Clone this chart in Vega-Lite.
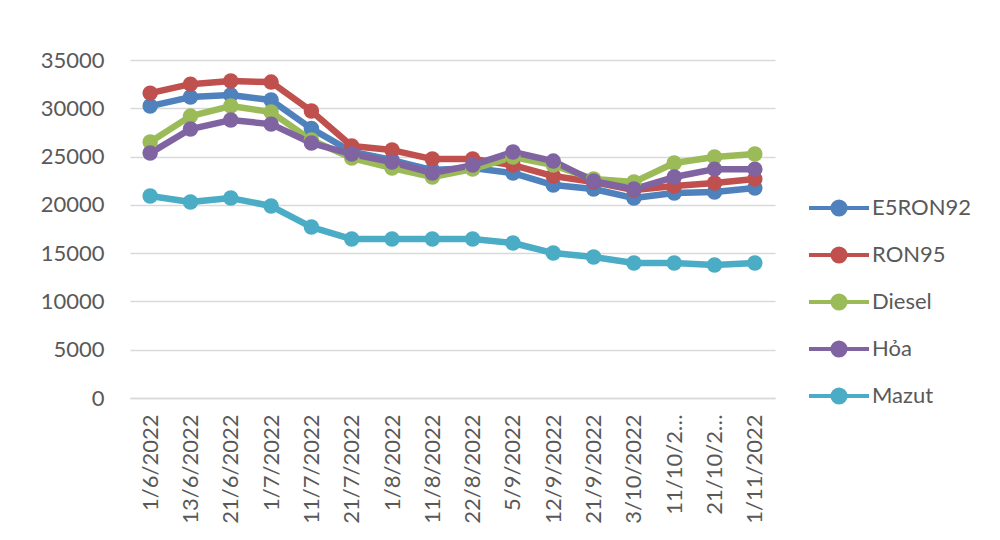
{
  "$schema": "https://vega.github.io/schema/vega-lite/v6.json",
  "width": 645,
  "height": 338,
  "autosize": {"type": "none"},
  "padding": {"left": 130, "top": 60, "right": 225, "bottom": 142},
  "background": "white",
  "config": {
    "view": {"stroke": null},
    "font": "Lato"
  },
  "datasets": {
    "prices": [
      {"date": "1/6/2022", "series": "E5RON92", "value": 30230},
      {"date": "13/6/2022", "series": "E5RON92", "value": 31160},
      {"date": "21/6/2022", "series": "E5RON92", "value": 31370},
      {"date": "1/7/2022", "series": "E5RON92", "value": 30850},
      {"date": "11/7/2022", "series": "E5RON92", "value": 27900},
      {"date": "21/7/2022", "series": "E5RON92", "value": 25500},
      {"date": "1/8/2022", "series": "E5RON92", "value": 24640},
      {"date": "11/8/2022", "series": "E5RON92", "value": 23600},
      {"date": "22/8/2022", "series": "E5RON92", "value": 23810},
      {"date": "5/9/2022", "series": "E5RON92", "value": 23290},
      {"date": "12/9/2022", "series": "E5RON92", "value": 22050},
      {"date": "21/9/2022", "series": "E5RON92", "value": 21640},
      {"date": "3/10/2022", "series": "E5RON92", "value": 20700},
      {"date": "11/10/2022", "series": "E5RON92", "value": 21220},
      {"date": "21/10/2022", "series": "E5RON92", "value": 21330},
      {"date": "1/11/2022", "series": "E5RON92", "value": 21740},

      {"date": "1/6/2022", "series": "RON95", "value": 31570},
      {"date": "13/6/2022", "series": "RON95", "value": 32500},
      {"date": "21/6/2022", "series": "RON95", "value": 32820},
      {"date": "1/7/2022", "series": "RON95", "value": 32710},
      {"date": "11/7/2022", "series": "RON95", "value": 29710},
      {"date": "21/7/2022", "series": "RON95", "value": 26090},
      {"date": "1/8/2022", "series": "RON95", "value": 25670},
      {"date": "11/8/2022", "series": "RON95", "value": 24740},
      {"date": "22/8/2022", "series": "RON95", "value": 24740},
      {"date": "5/9/2022", "series": "RON95", "value": 24120},
      {"date": "12/9/2022", "series": "RON95", "value": 22980},
      {"date": "21/9/2022", "series": "RON95", "value": 22360},
      {"date": "3/10/2022", "series": "RON95", "value": 21530},
      {"date": "11/10/2022", "series": "RON95", "value": 21950},
      {"date": "21/10/2022", "series": "RON95", "value": 22260},
      {"date": "1/11/2022", "series": "RON95", "value": 22670},

      {"date": "1/6/2022", "series": "Diesel", "value": 26500},
      {"date": "13/6/2022", "series": "Diesel", "value": 29190},
      {"date": "21/6/2022", "series": "Diesel", "value": 30230},
      {"date": "1/7/2022", "series": "Diesel", "value": 29610},
      {"date": "11/7/2022", "series": "Diesel", "value": 26710},
      {"date": "21/7/2022", "series": "Diesel", "value": 24840},
      {"date": "1/8/2022", "series": "Diesel", "value": 23810},
      {"date": "11/8/2022", "series": "Diesel", "value": 22880},
      {"date": "22/8/2022", "series": "Diesel", "value": 23700},
      {"date": "5/9/2022", "series": "Diesel", "value": 24950},
      {"date": "12/9/2022", "series": "Diesel", "value": 24120},
      {"date": "21/9/2022", "series": "Diesel", "value": 22670},
      {"date": "3/10/2022", "series": "Diesel", "value": 22360},
      {"date": "11/10/2022", "series": "Diesel", "value": 24330},
      {"date": "21/10/2022", "series": "Diesel", "value": 24950},
      {"date": "1/11/2022", "series": "Diesel", "value": 25260},

      {"date": "1/6/2022", "series": "Hỏa", "value": 25360},
      {"date": "13/6/2022", "series": "Hỏa", "value": 27850},
      {"date": "21/6/2022", "series": "Hỏa", "value": 28780},
      {"date": "1/7/2022", "series": "Hỏa", "value": 28360},
      {"date": "11/7/2022", "series": "Hỏa", "value": 26400},
      {"date": "21/7/2022", "series": "Hỏa", "value": 25260},
      {"date": "1/8/2022", "series": "Hỏa", "value": 24430},
      {"date": "11/8/2022", "series": "Hỏa", "value": 23290},
      {"date": "22/8/2022", "series": "Hỏa", "value": 24120},
      {"date": "5/9/2022", "series": "Hỏa", "value": 25470},
      {"date": "12/9/2022", "series": "Hỏa", "value": 24530},
      {"date": "21/9/2022", "series": "Hỏa", "value": 22460},
      {"date": "3/10/2022", "series": "Hỏa", "value": 21640},
      {"date": "11/10/2022", "series": "Hỏa", "value": 22880},
      {"date": "21/10/2022", "series": "Hỏa", "value": 23700},
      {"date": "1/11/2022", "series": "Hỏa", "value": 23700},

      {"date": "1/6/2022", "series": "Mazut", "value": 20910},
      {"date": "13/6/2022", "series": "Mazut", "value": 20290},
      {"date": "21/6/2022", "series": "Mazut", "value": 20700},
      {"date": "1/7/2022", "series": "Mazut", "value": 19880},
      {"date": "11/7/2022", "series": "Mazut", "value": 17700},
      {"date": "21/7/2022", "series": "Mazut", "value": 16460},
      {"date": "1/8/2022", "series": "Mazut", "value": 16460},
      {"date": "11/8/2022", "series": "Mazut", "value": 16460},
      {"date": "22/8/2022", "series": "Mazut", "value": 16460},
      {"date": "5/9/2022", "series": "Mazut", "value": 16050},
      {"date": "12/9/2022", "series": "Mazut", "value": 15010},
      {"date": "21/9/2022", "series": "Mazut", "value": 14600},
      {"date": "3/10/2022", "series": "Mazut", "value": 13980},
      {"date": "11/10/2022", "series": "Mazut", "value": 13980},
      {"date": "21/10/2022", "series": "Mazut", "value": 13770},
      {"date": "1/11/2022", "series": "Mazut", "value": 13980}
    ]
  },
  "data": {"name": "prices"},
  "encoding": {
    "x": {
      "field": "date",
      "type": "nominal",
      "sort": null,
      "scale": {"type": "point", "padding": 0.5},
      "axis": {
        "title": null,
        "labelAngle": -90,
        "labelAlign": "right",
        "labelBaseline": "middle",
        "labelFontSize": 22,
        "labelColor": "#595959",
        "labelPadding": 16,
        "labelLimit": 0,
        "labelExpr": "length(datum.label) > 9 ? slice(datum.label, 0, 7) + '…' : datum.label",
        "ticks": false,
        "grid": false,
        "domainColor": "#d9d9d9",
        "domainWidth": 1.5
      }
    },
    "y": {
      "field": "value",
      "type": "quantitative",
      "scale": {"domain": [0, 35000], "nice": false},
      "axis": {
        "title": null,
        "values": [0, 5000, 10000, 15000, 20000, 25000, 30000, 35000],
        "format": "d",
        "labelFontSize": 22,
        "labelColor": "#595959",
        "labelPadding": 26,
        "ticks": false,
        "domain": false,
        "gridColor": "#d9d9d9",
        "gridWidth": 1.5
      }
    },
    "color": {
      "field": "series",
      "type": "nominal",
      "scale": {
        "domain": ["E5RON92", "RON95", "Diesel", "Hỏa", "Mazut"],
        "range": ["#4f81bd", "#c0504d", "#9bbb59", "#8064a2", "#4bacc6"]
      },
      "legend": {
        "title": null,
        "orient": "none",
        "legendX": 677,
        "legendY": 116,
        "labelFontSize": 22,
        "labelColor": "#595959",
        "labelOffset": 1,
        "symbolType": "M-1,0L1,0M0.22,0A0.22,0.22,0,1,1,-0.22,0A0.22,0.22,0,1,1,0.22,0Z",
        "symbolSize": 3600,
        "symbolStrokeWidth": 4,
        "rowPadding": -0.5,
        "encode": {
          "symbols": {
            "update": {
              "fill": {"scale": "color", "field": "value"},
              "stroke": {"scale": "color", "field": "value"},
              "strokeWidth": {"value": 4},
              "opacity": {"value": 1}
            }
          }
        }
      }
    }
  },
  "layer": [
    {"mark": {"type": "line", "strokeWidth": 6.5, "strokeCap": "round", "strokeJoin": "round"}},
    {"mark": {"type": "point", "filled": true, "opacity": 1, "size": 240}}
  ]
}
